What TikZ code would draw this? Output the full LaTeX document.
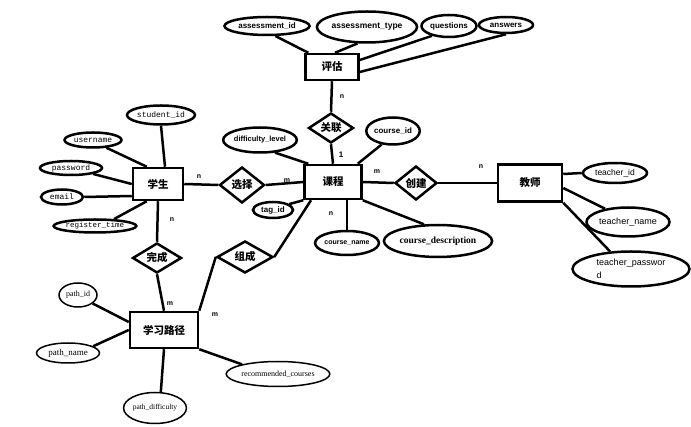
\documentclass[tikz,border=0pt]{standalone}
\usepackage{fontspec}
\setmainfont{Liberation Sans}
\setmonofont{Liberation Mono}
\newfontfamily\serfont{Liberation Serif}
\newfontfamily\cjkfont{Noto Sans CJK SC}
\usetikzlibrary{shapes.geometric}

\tikzset{
  sz/.style 2 args={minimum width=#1pt,minimum height=#2pt},
  entity/.style={draw,line width=2.5pt,inner sep=0pt,font=\cjkfont\fontsize{10.5}{12}\selectfont\bfseries},
  relation/.style={draw,diamond,aspect=1.3,line width=2.5pt,inner sep=0pt,font=\cjkfont\fontsize{10.5}{12}\selectfont\bfseries},
  attr/.style={draw,ellipse,line width=2.5pt,inner sep=0pt,font=\fontsize{8}{9}\selectfont\bfseries},
  attrmono/.style={attr,font=\ttfamily\fontsize{8}{9}\selectfont},
  attrthin/.style={attr,line width=1.5pt,font=\serfont\fontsize{8}{9}\selectfont},
  card/.style={inner sep=0pt,font=\fontsize{7}{8}\selectfont\bfseries},
  link/.style={line width=2.5pt},
}

\begin{document}
\begin{tikzpicture}[x=1pt,y=-1pt]
\useasboundingbox (0,0) rectangle (691,427);
% entities
\node[entity,sz={53}{26}] (pg) at (332,67) {评估};
\node[entity,sz={50}{32}] (xs) at (158,184) {学生};
\node[entity,sz={57}{34}] (kc) at (333,182) {课程};
\node[entity,sz={64}{37}] (js) at (530,183) {教师};
\node[entity,sz={68}{36}] (lj) at (164,330) {学习路径};
% relations
\node[relation,sz={45}{30}] (gl) at (331,128) {关联};
\node[relation,sz={45}{36}] (xz) at (242,185) {选择};
\node[relation,sz={42}{34}] (cj) at (416,183) {创建};
\node[relation,sz={49}{30}] (wc) at (157,258) {完成};
\node[relation,sz={56}{32}] (zc) at (245,257) {组成};
% attributes of 评估
\node[attr,sz={85}{18}] (assid) at (267,26) {assessment\_id};
\node[attr,sz={90}{31},font=\fontsize{8.5}{9}\selectfont\bfseries] (asstype) at (367,27) {assessment\_type};
\node[attr,sz={55}{22}] (quest) at (449,26) {questions};
\node[attr,sz={54}{16}] (answ) at (506,25) {answers};
% attributes of 学生
\node[attrmono,sz={64}{19}] (stuid) at (161,115) {student\_id};
\node[attrmono,sz={57}{15}] (uname) at (93,140) {username};
\node[attrmono,sz={62}{14}] (pwd) at (71,168) {password};
\node[attrmono,sz={42}{15}] (email) at (62,197) {email};
\node[attrmono,sz={64}{13},font=\ttfamily\fontsize{7.5}{9}\selectfont] (regtime) at (95,226) {register\_time};
% attributes of 课程
\node[attr,sz={70}{25},font=\fontsize{7.5}{9}\selectfont\bfseries] (difflv) at (260,140) {difficulty\_level};
\node[attr,sz={50}{27}] (crsid) at (393,131) {course\_id};
\node[attr,sz={40}{16}] (tagid) at (273,210) {tag\_id};
\node[attr,sz={53}{24},font=\fontsize{7}{9}\selectfont\bfseries] (crsname) at (347,243) {course\_name};
\node[attr,sz={103}{32},font=\serfont\fontsize{9.5}{10}\selectfont\bfseries] (crsdesc) at (438,241) {course\_description};
% attributes of 教师
\node[attr,sz={64}{20},font=\fontsize{8.5}{10}\selectfont] (tchid) at (615,173) {teacher\_id};
\node[attr,sz={83}{29},font=\fontsize{9}{10}\selectfont] (tchname) at (628,222) {teacher\_name};
\node[attr,sz={117}{35},align=left,font=\fontsize{9}{13}\selectfont] (tchpwd) at (631,269) {teacher\_passwor\\d};
% attributes of 学习路径
\node[attrthin,sz={38}{24}] (pathid) at (78,295) {path\_id};
\node[attrthin,sz={63}{20},font=\serfont\fontsize{9}{10}\selectfont] (pathname) at (68,353) {path\_name};
\node[attrthin,sz={57}{31},font=\serfont\fontsize{7.5}{9}\selectfont] (pathdiff) at (155,408) {path\_difficulty};
\node[attrthin,sz={90}{25}] (reccrs) at (278,374) {recommended\_courses};
% cardinalities
\node[card] (c1) at (199,177) {n};
\node[card] (c2) at (287,181) {m};
\node[card] (c3) at (172,220) {n};
\node[card] (c4) at (342,97) {n};
\node[card,font=\fontsize{8}{9}\selectfont\bfseries] (c5) at (341,155) {1};
\node[card] (c6) at (377,172) {m};
\node[card] (c7) at (481,167) {n};
\node[card] (c8) at (331,214) {n};
\node[card] (c9) at (170,304) {m};
\node[card] (c10) at (215,315) {m};
% connectors
\draw[link] (assid.-50) -- ([xshift=4pt]pg.north west);
\draw[link] (asstype.240) -- ([xshift=3pt]pg.north);
\draw[link] (quest.210) -- ([yshift=7pt]pg.east);
\draw[link] (answ.south) -- ([yshift=-5pt]pg.east);
\draw[link] (pg.south) -- (gl.north);
\draw[link] (gl.south) -- (kc.north);
\draw[link] (stuid.south) -- ([xshift=7pt]xs.north);
\draw[link] (uname.-30) -- ([xshift=15pt]xs.north west);
\draw[link] (pwd.-15) -- (xs.west);
\draw[link] (email.east) -- ([yshift=-12pt]xs.west);
\draw[link] (regtime.20) -- ([xshift=15pt]xs.south west);
\draw[link] (xs.east) -- (xz.west);
\draw[link] (xz.east) -- (kc.west);
\draw[link] (xs.south) -- (wc.north);
\draw[link] (wc.south) -- (lj.north);
\draw[link] (difflv.-40) -- ([xshift=5pt]kc.north west);
\draw[link] (crsid.230) -- ([xshift=-5pt]kc.north east);
\draw[link] (tagid.20) -- (kc.south west);
\draw[link] (crsname.north) -- ([xshift=14pt]kc.south);
\draw[link] (crsdesc.130) -- (kc.south east);
\draw[link] (kc.east) -- (cj.west);
\draw[link] (cj.east) -- (js.west);
\draw[link] (tchid.west) -- ([yshift=9pt]js.east);
\draw[link] (tchname.150) -- ([yshift=-5pt]js.east);
\draw[link] (tchpwd.140) -- (js.south east);
\draw[link] (zc.east) -- ([xshift=-22pt]kc.south);
\draw[link] (zc.west) -- (lj.north east);
\draw[link] (pathid.-30) -- ([yshift=8pt]lj.west);
\draw[link] (pathname.15) -- (lj.west);
\draw[link] (pathdiff.70) -- (lj.south);
\draw[link] (reccrs.165) -- (lj.south east);
\end{tikzpicture}
\end{document}
